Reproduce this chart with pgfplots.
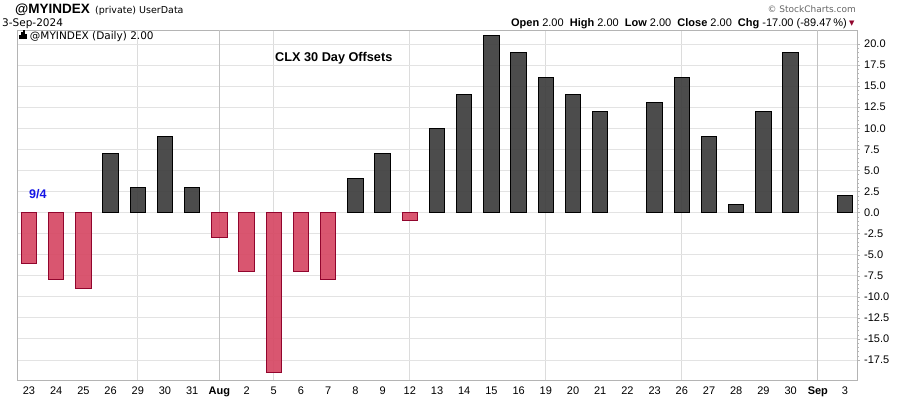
\documentclass[border=0pt]{standalone}
\usepackage{pgfplots}
\pgfplotsset{compat=1.18}
\usepackage{pgfplotstable}
\usepackage{fontspec}
\setmainfont{Liberation Sans}
\newfontfamily\verd{DejaVu Sans}
\definecolor{darkbar}{RGB}{66,66,66}
\definecolor{redbar}{RGB}{214,72,100}
\definecolor{rededge}{RGB}{145,5,45}
\definecolor{gridc}{RGB}{227,227,227}
\definecolor{vgrid}{RGB}{220,220,220}
\definecolor{mgrid}{RGB}{195,195,195}
\definecolor{framec}{RGB}{180,180,180}
\definecolor{blue94}{RGB}{20,20,230}

\pgfplotstableread{
x y
0 -6
1 -8
2 -9
7 -3
8 -7
9 -19
10 -7
11 -8
14 -1
}\negdata

\pgfplotstableread{
x y
3 7
4 3
5 9
6 3
12 4
13 7
15 10
16 14
17 21
18 19
19 16
20 14
21 12
23 13
24 16
25 9
26 1
27 12
28 19
30 2
}\posdata

\begin{document}
\begin{tikzpicture}[x=1bp,y=1bp]
\useasboundingbox (0,0) rectangle (900,-396);
\begin{axis}[
  at={(17bp,-380bp)}, anchor=south west,
  scale only axis, width=840bp, height=350bp,
  xmin=-0.44, xmax=30.44, ymin=-19.88, ymax=21.66,
  axis line style={framec},
  xtick={0,...,30},
  xticklabels={23,24,25,26,29,30,31,\textbf{Aug},2,5,6,7,8,9,12,13,14,15,16,19,20,21,22,23,26,27,28,29,30,\textbf{Sep},3},
  minor xtick={4,9,14,19,24},
  xminorgrids=true,
  minor x grid style={vgrid, line width=0.8bp},
  extra x ticks={7,29},
  extra x tick labels={},
  extra x tick style={xmajorgrids=true, major x grid style={mgrid, line width=0.8bp}},
  x tick style={draw=none},
  minor x tick style={draw=none},
  ytick={-17.5,-15,...,20},
  minor y tick num=4,
  ymajorgrids=true,
  major y grid style={gridc, line width=0.8bp},
  ytick pos=right,
  yticklabel pos=right,
  tick align=outside,
  y tick style={framec},
  major tick length=3bp,
  minor tick length=1.5bp,
  /pgf/number format/assume math mode=true,
  y tick label style={/pgf/number format/fixed, /pgf/number format/fixed zerofill, /pgf/number format/precision=1},
  ticklabel style={font=\fontsize{11bp}{13bp}\selectfont},
  yticklabel style={anchor=west, inner sep=0pt, xshift=4bp},
  xticklabel style={anchor=base, inner sep=0pt, yshift=-11bp},
]
\addplot[ybar, bar width=15.5bp, bar shift=0pt, fill=redbar, fill opacity=0.92, draw=rededge, line width=1bp] table {\negdata};
\addplot[ybar, bar width=15.5bp, bar shift=0pt, fill=darkbar, fill opacity=0.95, draw=black, line width=1bp] table {\posdata};
\end{axis}
% header texts
\node[anchor=base west, inner sep=0pt, font=\fontsize{13.5bp}{15bp}\selectfont\bfseries] at (15,-13) {@MYINDEX};
\node[anchor=base west, inner sep=0pt, font=\verd\fontsize{9.5bp}{11bp}\selectfont] at (95,-13) {(private) UserData};
\node[anchor=base west, inner sep=0pt, font=\verd\fontsize{10.5bp}{12bp}\selectfont] at (2,-26) {3-Sep-2024};
\node[anchor=base east, inner sep=0pt, text=black!60, font=\verd\fontsize{9bp}{11bp}\selectfont] at (856,-12) {\copyright\ StockCharts.com};
\node[anchor=base east, inner sep=0pt, font=\fontsize{11bp}{13bp}\selectfont] at (847,-26) {\textbf{Open} 2.00\ \ \textbf{High} 2.00\ \ \textbf{Low} 2.00\ \ \textbf{Close} 2.00\ \ \textbf{Chg} -17.00 (-89.47\,\%)};
\node[anchor=base west, inner sep=0pt, text=rededge, font=\verd\fontsize{7bp}{8bp}\selectfont] at (849,-25) {▼};
\node[anchor=base west, inner sep=0pt, font=\verd\fontsize{10.5bp}{12bp}\selectfont] at (19,-39) {\rule{1.5bp}{4bp}\hspace{0.6bp}\rule{1.5bp}{7bp}\hspace{0.6bp}\rule{1.5bp}{9bp}\hspace{0.6bp}\rule{1.5bp}{5bp}\hspace{3bp}@MYINDEX (Daily) 2.00};
\node[anchor=base west, inner sep=0pt, font=\fontsize{12.7bp}{15bp}\selectfont\bfseries] at (275,-61) {CLX 30 Day Offsets};
\node[anchor=base west, inner sep=0pt, text=blue94, font=\fontsize{12.5bp}{15bp}\selectfont\bfseries] at (29,-198) {9/4};
\end{tikzpicture}
\end{document}
